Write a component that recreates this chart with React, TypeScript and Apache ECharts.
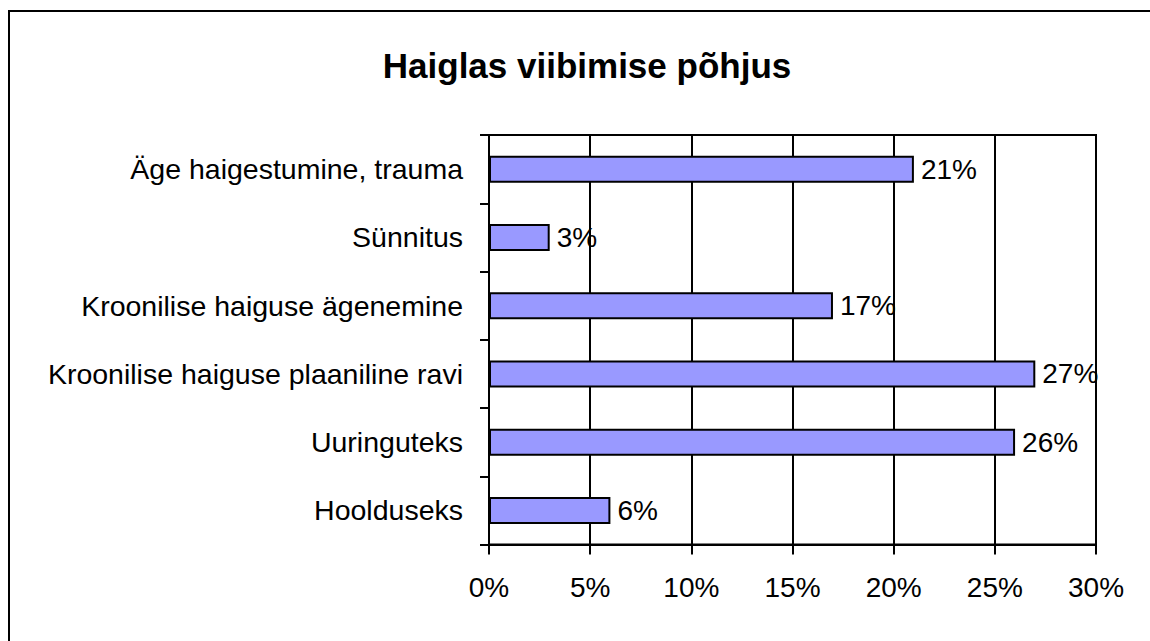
import React, { useEffect, useRef } from "react";
import * as echarts from "echarts";

const categories = [
  "Äge haigestumine, trauma",
  "Sünnitus",
  "Kroonilise haiguse ägenemine",
  "Kroonilise haiguse plaaniline ravi",
  "Uuringuteks",
  "Hoolduseks",
];
const values = [21, 3, 17, 27, 26, 6];
const titleText = "Haiglas viibimise põhjus";
const FONT = "'Liberation Sans', Arial, sans-serif";

export default function App() {
  const ref = useRef<HTMLDivElement>(null);
  useEffect(() => {
    if (!ref.current) return;
    const chart = echarts.init(ref.current, undefined, { renderer: "svg" });
    chart.setOption({
      animation: false,
      backgroundColor: "#fff",
      textStyle: { fontFamily: FONT },
      graphic: [
        {
          type: "rect",
          shape: { x: 9, y: 11, width: 1300, height: 800 },
          style: { fill: "none", stroke: "#000", lineWidth: 2 },
          silent: true,
        },
        {
          type: "text",
          x: 587,
          y: 65,
          style: {
            text: titleText,
            font: `bold 35px ${FONT}`,
            fill: "#000",
            textAlign: "center",
            textVerticalAlign: "middle",
          },
        },
      ],
      grid: {
        left: 489,
        right: 54,
        top: 135,
        bottom: 96.5,
        show: true,
        borderColor: "#000",
        borderWidth: 2,
        containLabel: false,
      },
      xAxis: {
        type: "value",
        min: 0,
        max: 30,
        interval: 5,
        axisLine: { show: true, lineStyle: { color: "#000", width: 2 } },
        axisTick: { show: true, length: 10, lineStyle: { color: "#000", width: 2 } },
        splitLine: { show: true, lineStyle: { color: "#000", width: 2 } },
        axisLabel: {
          formatter: "{value}%",
          fontSize: 28,
          color: "#000",
          margin: 29,
          fontFamily: FONT,
        },
      },
      yAxis: {
        type: "category",
        data: categories,
        inverse: true,
        axisLine: { show: true, lineStyle: { color: "#000", width: 2 } },
        axisTick: { show: true, length: 9, lineStyle: { color: "#000", width: 2 } },
        splitLine: { show: false },
        axisLabel: {
          fontSize: 28.5,
          color: "#000",
          margin: 26,
          fontFamily: FONT,
        },
      },
      series: [
        {
          type: "bar",
          data: values,
          barWidth: 27,
          itemStyle: { color: "#9999ff", borderColor: "#000", borderWidth: 2 },
          label: {
            show: true,
            position: "right",
            distance: 7,
            formatter: "{c}%",
            fontSize: 28,
            color: "#000",
            fontFamily: FONT,
          },
        },
      ],
    });
    return () => chart.dispose();
  }, []);
  return (
    <div
      ref={ref}
      style={{ position: "fixed", left: 0, top: 0, width: 1150, height: 641 }}
    />
  );
}
